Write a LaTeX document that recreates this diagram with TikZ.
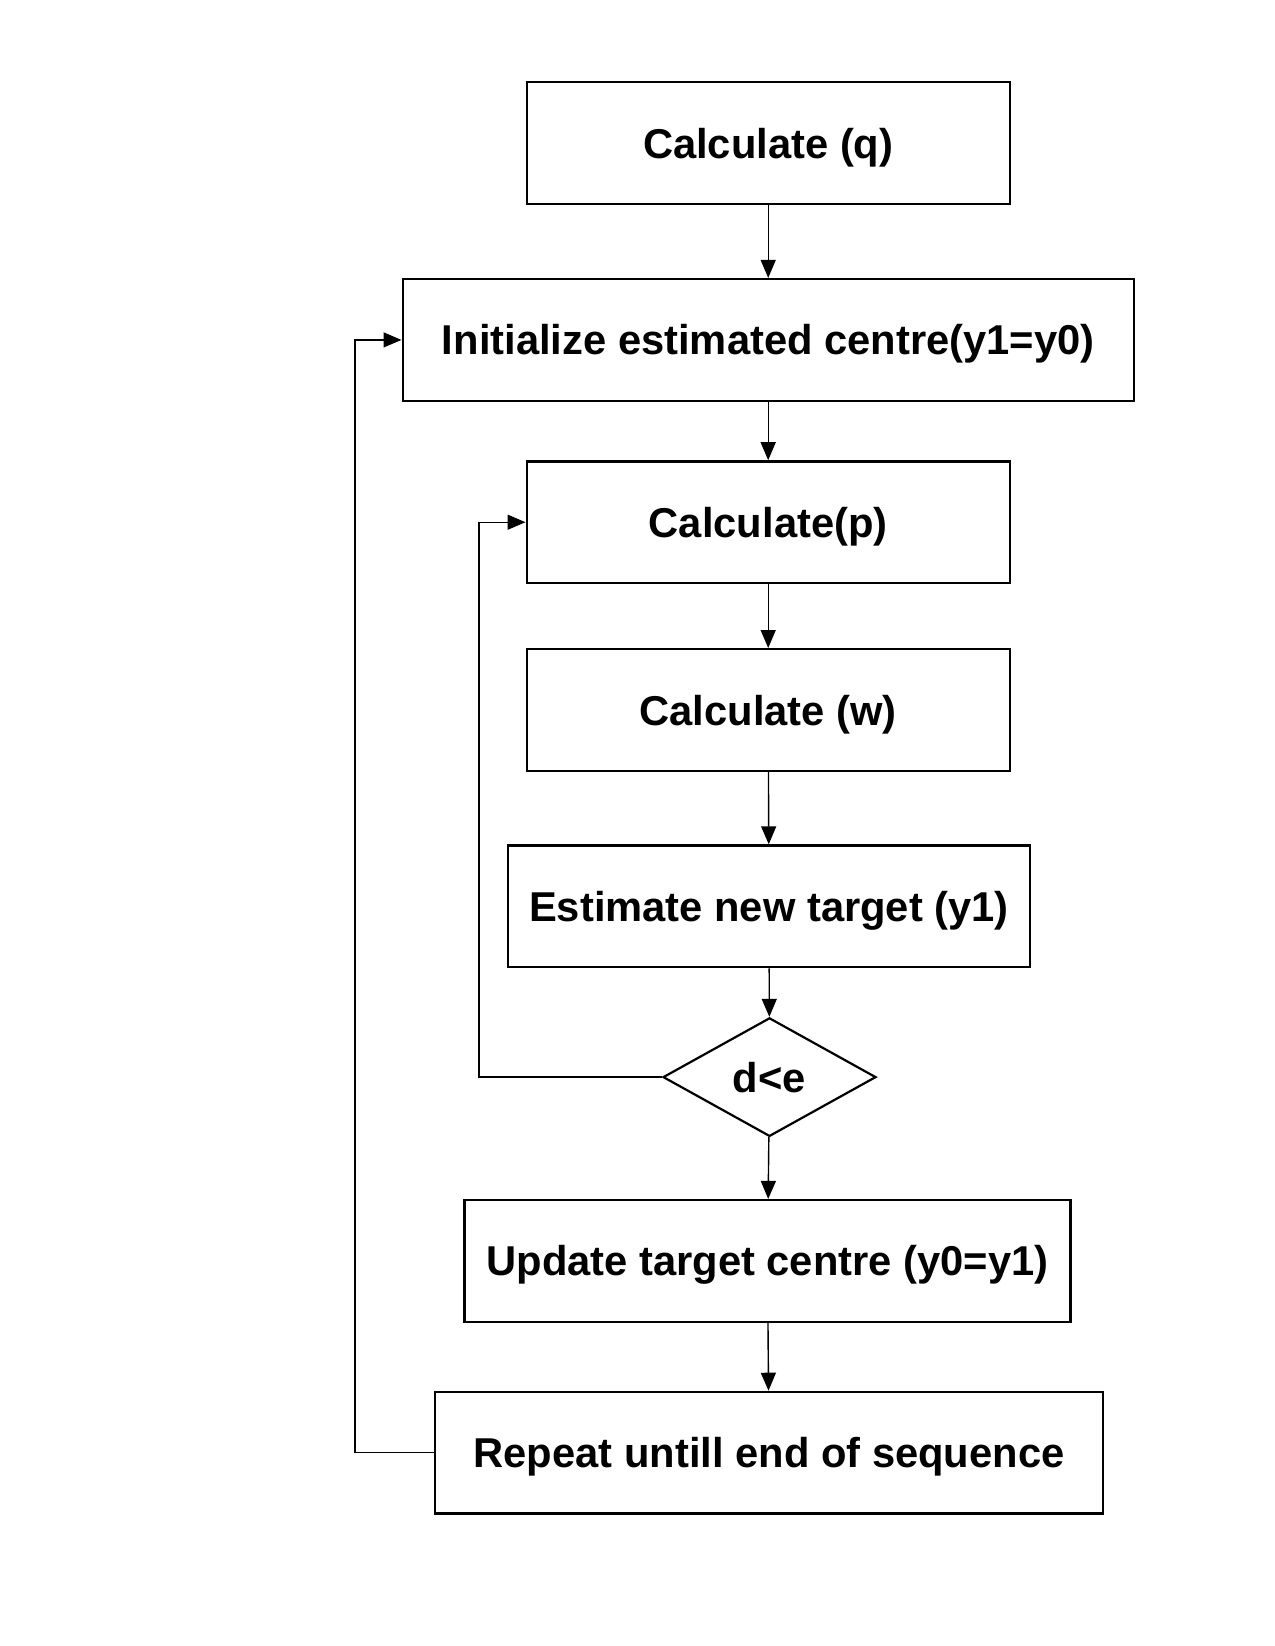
\documentclass[tikz,border=0pt]{standalone}
\usepackage{fontspec}
\setmainfont{Liberation Sans}
\usetikzlibrary{arrows.meta,shapes.geometric}
\begin{document}
\begin{tikzpicture}[x=0.5pt,y=-0.5pt,
  box/.style={draw,line width=1.2pt,rectangle,inner sep=0pt,minimum height=60.8pt,text height=15pt,text depth=0pt,font=\fontsize{20.85pt}{24pt}\selectfont\bfseries},
  decide/.style={draw,line width=1.1pt,diamond,inner sep=0pt,minimum width=106.5pt,minimum height=59.3pt,font=\fontsize{20.85pt}{24pt}\selectfont\bfseries},
  conn/.style={line width=0.7pt,-{Triangle[length=9pt,width=7.5pt]}}]
\useasboundingbox (0,0) rectangle (1275,1646);
\node[box,minimum width=241.5pt] (q) at (768.2,143) {Calculate (q)};
\node[box,minimum width=365.5pt] (init) at (768.2,339.9) {Initialize estimated centre(y1=y0)};
\node[box,minimum width=241.5pt] (p) at (768.2,522.2) {Calculate(p)};
\node[box,minimum width=241.5pt] (w) at (768.2,710) {Calculate (w)};
\node[box,minimum width=261pt] (est) at (769,906.3) {Estimate new target (y1)};
\node[decide] (dia) at (769.5,1077.1) {d<e};
\node[box,minimum width=303pt] (upd) at (767.5,1260.9) {Update target centre (y0=y1)};
\node[box,minimum width=334pt] (rep) at (769,1452.7) {Repeat untill end of sequence};
\coordinate (outerx) at (355,0);
\coordinate (innerx) at (479,0);
\draw[conn] (q) -- (init);
\draw[conn] (init) -- (p);
\draw[conn] (p) -- (w);
\draw[conn] (w) -- (est);
\draw[conn] (est) -- (dia);
\draw[conn] (dia) -- (upd);
\draw[conn] (upd) -- (rep);
\draw[conn] (dia.west) -- (dia.west -| innerx) |- (p.west);
\draw[conn] (rep.west) -- (rep.west -| outerx) |- (init.west);
\end{tikzpicture}
\end{document}
